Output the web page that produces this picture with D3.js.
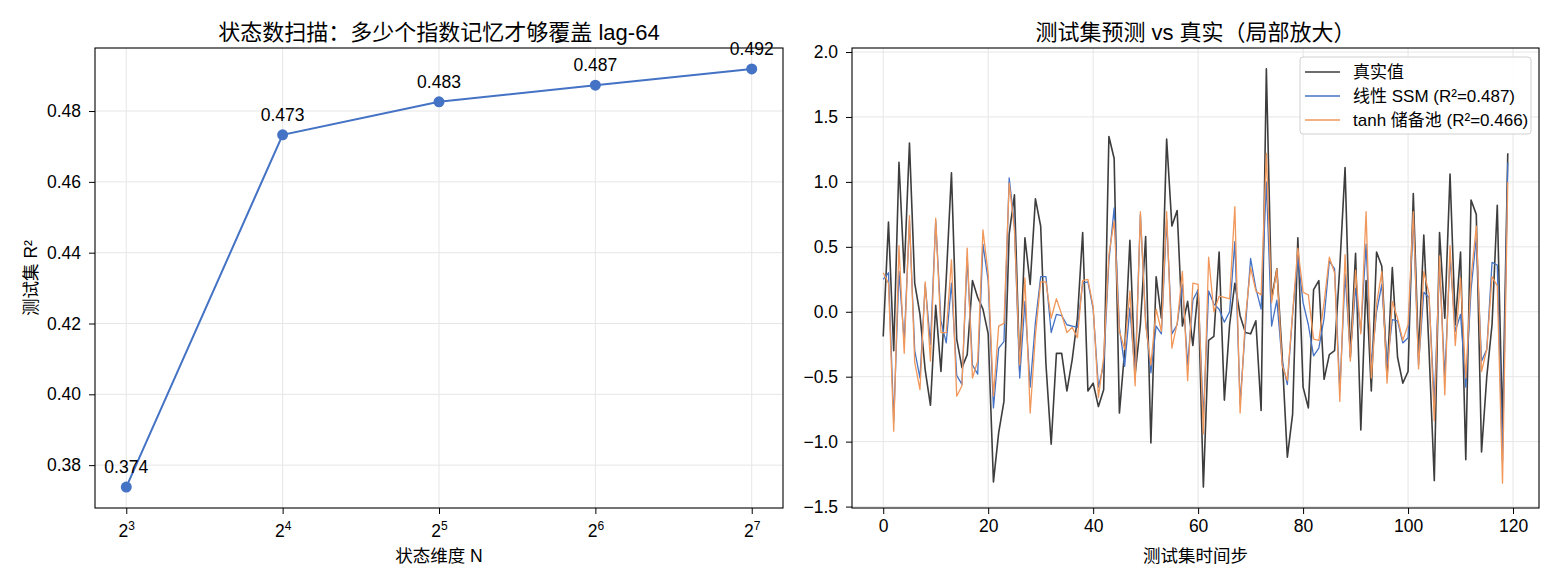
<!DOCTYPE html>
<html>
<head>
<meta charset="utf-8">
<script src="https://cdn.jsdelivr.net/npm/d3@7/dist/d3.min.js"></script>
<style>
  body { margin: 0; background: #fff; }
  svg text { font-family: "Liberation Sans", "Noto Sans CJK SC", sans-serif; fill: #000; }
  .tick text { font-size: 17.5px; }
</style>
</head>
<body>
<svg width="1560" height="585"></svg>
<script>
// ---- left panel data ----
var stateDims = [8, 16, 32, 64, 128];
var stateR2 = [0.3738, 0.4733, 0.4826, 0.4873, 0.4919];
var leftYTicks = [0.38, 0.40, 0.42, 0.44, 0.46, 0.48];

// ---- right panel data (test set, zoomed) ----
var truth = [
  -0.19, 0.69, -0.30, 1.15, 0.30, 1.30, 0.22, -0.02, -0.45, -0.72,
  0.05, -0.46, 0.25, 1.07, -0.21, -0.43, -0.33, 0.24, 0.11, 0.02,
  -0.17, -1.31, -0.93, -0.69, 0.60, 0.90, -0.45, 0.57, 0.21, 0.87,
  0.66, -0.40, -1.02, -0.32, -0.32, -0.61, -0.37, -0.05, 0.61, -0.61,
  -0.55, -0.73, -0.60, 1.35, 1.18, -0.78, -0.30, 0.55, -0.48, -0.10,
  0.58, -1.01, 0.27, -0.05, 1.33, 0.66, 0.78, -0.11, 0.08, -0.26,
  0.17, -1.35, -0.22, -0.19, 0.46, -0.68, -0.10, 0.22, -0.03, -0.16,
  -0.17, -0.07, -0.76, 1.87, 0.10, 0.33, -0.33, -1.12, -0.79, 0.57,
  -0.58, -0.74, 0.17, 0.24, -0.52, -0.33, -0.30, 0.35, 1.11, -0.35,
  0.45, -0.91, 0.24, -0.61, 0.46, 0.35, -0.50, 0.34, -0.35, -0.55,
  -0.46, 0.91, -0.35, 0.59, -0.30, -1.30, 0.61, -0.05, 1.06, -0.10,
  0.46, -1.14, 0.86, 0.75, -1.08, -0.50, -0.10, 0.82, -0.90, 1.22
];
var ssmPred = [
  0.25, 0.30, -0.84, 0.31, -0.23, 0.70, -0.30, -0.51, 0.21, -0.25,
  0.70, -0.07, -0.24, 0.22, -0.49, -0.56, 0.42, -0.41, -0.48, 0.52,
  0.24, -0.74, -0.28, -0.23, 1.03, 0.67, -0.51, 0.08, -0.58, -0.08,
  0.27, 0.27, -0.16, -0.02, -0.03, -0.10, -0.11, -0.12, 0.22, 0.23,
  0.02, -0.58, -0.41, 0.39, 0.80, -0.12, -0.42, 0.03, -0.49, 0.75,
  -0.07, -0.47, -0.11, -0.17, 0.71, -0.17, -0.10, 0.21, -0.41, 0.09,
  0.17, -0.82, 0.16, 0.06, 0.02, -0.08, 0.00, 0.54, -0.71, -0.12,
  0.41, 0.18, 0.02, 1.00, -0.11, 0.09, -0.38, -0.56, -0.02, 0.42,
  0.07, -0.10, -0.34, -0.28, -0.05, 0.39, 0.33, -0.61, 0.29, -0.33,
  0.18, -0.15, 0.52, -0.41, 0.00, 0.21, -0.41, -0.06, -0.07, -0.24,
  -0.20, 0.75, -0.41, 0.15, 0.11, -0.70, 0.36, -0.51, 0.42, -0.15,
  -0.02, -0.58, 0.17, 0.57, -0.38, -0.29, 0.38, 0.36, -1.15, 1.15
];
var tanhPred = [
  0.30, 0.22, -0.92, 0.51, -0.32, 0.74, -0.39, -0.60, 0.23, -0.38,
  0.72, -0.16, -0.16, 0.40, -0.65, -0.57, 0.49, -0.51, -0.38, 0.63,
  0.29, -0.65, -0.11, -0.09, 0.99, 0.63, -0.41, 0.26, -0.78, -0.18,
  0.23, 0.23, -0.05, 0.10, -0.02, -0.16, -0.12, -0.20, 0.24, 0.25,
  0.04, -0.66, -0.35, 0.44, 0.70, -0.15, -0.29, 0.16, -0.57, 0.77,
  -0.10, -0.41, 0.02, -0.15, 0.77, -0.28, -0.09, 0.31, -0.53, 0.22,
  0.21, -0.94, 0.42, 0.00, 0.12, 0.11, 0.10, 0.81, -0.78, -0.05,
  0.34, 0.16, 0.13, 1.22, 0.07, 0.33, -0.41, -0.53, -0.01, 0.49,
  0.15, 0.13, -0.21, -0.22, 0.07, 0.42, 0.30, -0.69, 0.44, -0.38,
  0.32, -0.17, 0.77, -0.51, 0.06, 0.31, -0.55, 0.08, -0.05, -0.22,
  -0.10, 0.77, -0.44, 0.31, 0.14, -0.84, 0.43, -0.64, 0.51, -0.26,
  0.26, -0.51, 0.26, 0.66, -0.46, -0.29, 0.27, 0.20, -1.32, 1.00
];
var rightXTicks = [0, 20, 40, 60, 80, 100, 120];
var rightYTicks = [-1.5, -1.0, -0.5, 0.0, 0.5, 1.0, 1.5, 2.0];
var legendNames = ["真实值", "线性 SSM (R²=0.487)", "tanh 储备池 (R²=0.466)"];

var svg = d3.select('svg');
svg.append('rect').attr('width', 1560).attr('height', 585).attr('fill', '#fff');

var plotTop = 48, plotBottom = 508;
var gridColor = '#e6e6e6';

function pad(ext) {
  var r = ext[1] - ext[0];
  return [ext[0] - r * 0.05, ext[1] + r * 0.05];
}

function frame(x0, x1) {
  svg.append('rect')
    .attr('x', x0).attr('y', plotTop)
    .attr('width', x1 - x0).attr('height', plotBottom - plotTop)
    .attr('fill', 'none').attr('stroke', '#000').attr('stroke-width', 1.1);
}

// ================= left panel =================
var L = { left: 95, right: 783 };
var lx = d3.scaleLog().base(2)
  .domain(pad(d3.extent(stateDims).map(Math.log2)).map(function(v) { return Math.pow(2, v); }))
  .range([L.left, L.right]);
var ly = d3.scaleLinear().domain(pad(d3.extent(stateR2))).range([plotBottom, plotTop]);

// grid
svg.append('g').selectAll('line').data(stateDims).enter().append('line')
  .attr('x1', function(d) { return lx(d); }).attr('x2', function(d) { return lx(d); })
  .attr('y1', plotTop).attr('y2', plotBottom)
  .attr('stroke', gridColor).attr('stroke-width', 1);
svg.append('g').selectAll('line').data(leftYTicks).enter().append('line')
  .attr('x1', L.left).attr('x2', L.right)
  .attr('y1', function(d) { return ly(d); }).attr('y2', function(d) { return ly(d); })
  .attr('stroke', gridColor).attr('stroke-width', 1);

var lxAxis = svg.append('g')
  .attr('transform', 'translate(0,' + plotBottom + ')')
  .call(d3.axisBottom(lx).tickValues(stateDims).tickSize(6).tickPadding(6).tickFormat(function() { return ''; }));
lxAxis.select('.domain').remove();
lxAxis.selectAll('.tick text').each(function(d) {
  var t = d3.select(this).attr('dy', null).attr('y', 29);
  t.append('tspan').text('2');
  t.append('tspan').attr('dy', -7).style('font-size', '12px').text(Math.log2(d));
});

var lyAxis = svg.append('g')
  .attr('transform', 'translate(' + L.left + ',0)')
  .call(d3.axisLeft(ly).tickValues(leftYTicks).tickSize(6).tickPadding(8).tickFormat(d3.format('.2f')));
lyAxis.select('.domain').remove();

frame(L.left, L.right);

svg.append('path')
  .datum(stateDims)
  .attr('fill', 'none').attr('stroke', '#4472C4').attr('stroke-width', 2)
  .attr('d', d3.line()
    .x(function(d) { return lx(d); })
    .y(function(d, i) { return ly(stateR2[i]); }));

svg.append('g').selectAll('circle').data(stateDims).enter().append('circle')
  .attr('cx', function(d) { return lx(d); })
  .attr('cy', function(d, i) { return ly(stateR2[i]); })
  .attr('r', 5.5).attr('fill', '#4472C4');

svg.append('g').selectAll('text').data(stateDims).enter().append('text')
  .attr('x', function(d) { return lx(d); })
  .attr('y', function(d, i) { return ly(stateR2[i]) - 14; })
  .attr('text-anchor', 'middle').style('font-size', '17.5px')
  .text(function(d, i) { return stateR2[i].toFixed(3); });

svg.append('text')
  .attr('x', (L.left + L.right) / 2).attr('y', 40)
  .attr('text-anchor', 'middle').style('font-size', '22px')
  .text('状态数扫描：多少个指数记忆才够覆盖 lag-64');
svg.append('text')
  .attr('x', (L.left + L.right) / 2).attr('y', 562)
  .attr('text-anchor', 'middle').style('font-size', '17.5px')
  .text('状态维度 N');
svg.append('text')
  .attr('transform', 'translate(37,' + ((plotTop + plotBottom) / 2) + ') rotate(-90)')
  .attr('text-anchor', 'middle').style('font-size', '17.5px')
  .text('测试集 R²');

// ================= right panel =================
var R = { left: 852, right: 1539 };
var steps = d3.range(truth.length);
var rx = d3.scaleLinear().domain(pad([0, truth.length - 1])).range([R.left, R.right]);
var allVals = truth.concat(ssmPred, tanhPred);
var ry = d3.scaleLinear().domain(pad(d3.extent(allVals))).range([plotBottom, plotTop]);

svg.append('g').selectAll('line').data(rightXTicks).enter().append('line')
  .attr('x1', function(d) { return rx(d); }).attr('x2', function(d) { return rx(d); })
  .attr('y1', plotTop).attr('y2', plotBottom)
  .attr('stroke', gridColor).attr('stroke-width', 1);
svg.append('g').selectAll('line').data(rightYTicks).enter().append('line')
  .attr('x1', R.left).attr('x2', R.right)
  .attr('y1', function(d) { return ry(d); }).attr('y2', function(d) { return ry(d); })
  .attr('stroke', gridColor).attr('stroke-width', 1);

var rxAxis = svg.append('g')
  .attr('transform', 'translate(0,' + plotBottom + ')')
  .call(d3.axisBottom(rx).tickValues(rightXTicks).tickSize(6).tickPadding(6));
rxAxis.select('.domain').remove();
var ryAxis = svg.append('g')
  .attr('transform', 'translate(' + R.left + ',0)')
  .call(d3.axisLeft(ry).tickValues(rightYTicks).tickSize(6).tickPadding(8)
    .tickFormat(function(d) { return d3.format('.1f')(d).replace('-', '\u2212'); }));
ryAxis.select('.domain').remove();

var series = [
  { vals: truth, color: '#3d3d3d', width: 1.6 },
  { vals: ssmPred, color: '#4472C4', width: 1.3 },
  { vals: tanhPred, color: '#F1975A', width: 1.3 }
];
var line = d3.line()
  .x(function(d) { return rx(d); });
series.forEach(function(s) {
  svg.append('path')
    .datum(steps)
    .attr('fill', 'none').attr('stroke', s.color).attr('stroke-width', s.width)
    .attr('stroke-linejoin', 'round')
    .attr('d', line.y(function(d) { return ry(s.vals[d]); }));
});

frame(R.left, R.right);

// legend
var lg = svg.append('g').attr('transform', 'translate(1300,57)');
lg.append('rect').attr('width', 231).attr('height', 77).attr('rx', 3)
  .attr('fill', 'rgba(255,255,255,0.85)').attr('stroke', '#d0d0d0').attr('stroke-width', 1);
legendNames.forEach(function(name, i) {
  var yy = 15 + i * 24;
  lg.append('line').attr('x1', 5).attr('x2', 40).attr('y1', yy).attr('y2', yy)
    .attr('stroke', series[i].color).attr('stroke-width', 1.6);
  lg.append('text').attr('x', 53).attr('y', yy + 6).style('font-size', '17px').text(name);
});

svg.append('text')
  .attr('x', (R.left + R.right) / 2).attr('y', 40)
  .attr('text-anchor', 'middle').style('font-size', '22px')
  .text('测试集预测 vs 真实（局部放大）');
svg.append('text')
  .attr('x', (R.left + R.right) / 2).attr('y', 562)
  .attr('text-anchor', 'middle').style('font-size', '17.5px')
  .text('测试集时间步');
</script>
</body>
</html>
